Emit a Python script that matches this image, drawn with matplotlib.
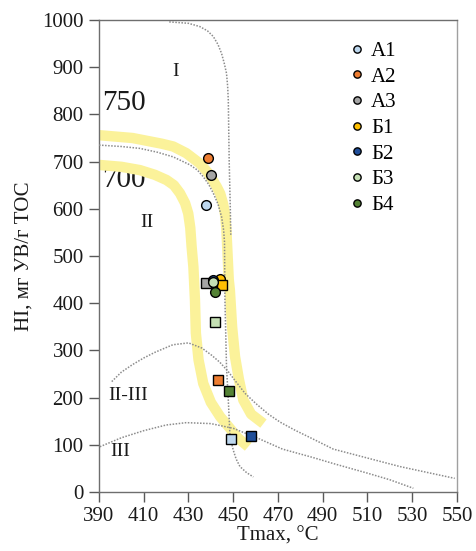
import matplotlib.pyplot as plt

plt.rcParams['font.family'] = ['Liberation Serif', 'DejaVu Serif']

# --- данные ---
groups = ['А1', 'А2', 'А3', 'Б1', 'Б2', 'Б3', 'Б4']
colors = ['#BDD7EE', '#ED7D31', '#A5A5A5', '#FFC000', '#1F4E99', '#C5E0B4', '#548235']

# круги (первая серия)
circ_tmax = [437.8, 438.8, 439.9, 444.0, 440.8, 441.1, 442.0]
circ_hi = [608, 708, 672, 451, 449, 444, 423]

# квадраты (вторая серия)
sq_tmax = [449.0, 443.0, 437.7, 445.1, 458.0, 442.0, 448.0]
sq_hi = [113, 237, 443, 438, 119, 361, 214]

# границы типов керогена (пунктир)
curve_I_x = [421.4, 430.0, 435.1, 438.5, 441.1, 443.2, 444.8, 446.0, 447.0,
             447.5, 447.8, 448.2, 448.7, 448.9]
curve_I_y = [996, 993, 986, 977, 965, 948, 929, 908, 887,
             860, 830, 700, 600, 545]

curve_II_x = [390.0, 400.0, 408.3, 416.0, 423.2, 430.7, 434.0, 436.6, 439.0,
              441.1, 443.2, 444.8, 445.7, 446.1, 446.3, 447.0, 447.8, 448.5,
              449.2, 450.0, 451.3, 453.0, 456.0, 459.0]
curve_II_y = [735, 732, 728, 720, 710, 693, 682, 668, 652,
              633, 610, 583, 555, 530, 407, 265, 195, 124,
              105, 89, 70, 54, 41, 32]

curve_II_III_x = [395.7, 400, 405, 410, 415, 423, 430, 436, 440.3, 444, 447.8,
                  451, 455.3, 460, 465.7, 471, 477.6, 485.8, 494.7, 510, 524.5, 549]
curve_II_III_y = [234, 254, 270, 284, 296, 312, 316, 305, 290, 275, 255,
                  235, 209, 188, 165, 148, 131, 112, 91, 72, 54, 29]

curve_III_x = [390.4, 400, 410, 420, 429, 440, 450, 461, 472, 485, 495, 510, 520, 530.5]
curve_III_y = [96, 115, 130, 142, 147, 145, 135, 114, 91, 74, 60, 40, 26, 8]

# жёлтые полосы (изолинии 750 и 700)
band_750_x = [390, 405, 418, 423.2, 429, 435.1, 439, 442.6, 444.2, 445.5, 446.3,
              446.9, 447.3, 448, 448.5, 449.5, 450.8, 452.5, 454.5, 458, 463.5]
band_750_y = [756, 750, 738, 732, 718, 696, 675, 647, 632, 610, 590,
              560, 520, 450, 428, 350, 287, 240, 195, 165, 145]

band_700_x = [390, 400, 408.3, 415, 420.2, 423.5, 426.2, 428.5, 429.9, 430.8,
              431.4, 432.2, 432.9, 433.3, 434.5, 436.6, 440, 444.1, 448, 452, 456.7]
band_700_y = [693, 689, 682, 672, 661, 650, 633, 612, 590, 560,
              520, 477, 407, 337, 280, 230, 190, 160, 138, 115, 96]

x_ticks = [390, 410, 430, 450, 470, 490, 510, 530, 550]
y_ticks = [0, 100, 200, 300, 400, 500, 600, 700, 800, 900, 1000]

fig = plt.figure(figsize=(4.77, 5.51), dpi=100)
ax = fig.add_axes([0.2075, 0.107, 0.7505, 0.8567])

# полосы
ax.plot(band_750_x, band_750_y, color='#FBF29A', lw=7.5,
        solid_capstyle='butt', solid_joinstyle='round', zorder=2)
ax.plot(band_700_x, band_700_y, color='#FBF29A', lw=7.5,
        solid_capstyle='butt', solid_joinstyle='round', zorder=2)

# пунктирные границы
for cx, cy in [(curve_I_x, curve_I_y), (curve_II_x, curve_II_y),
               (curve_II_III_x, curve_II_III_y), (curve_III_x, curve_III_y)]:
    ax.plot(cx, cy, color='#8C8C8C', lw=1.1, ls=(0, (1, 1)), zorder=3)

# точки
handles = []
for i, g in enumerate(groups):
    h, = ax.plot(circ_tmax[i], circ_hi[i], 'o', ms=7, mfc=colors[i],
                 mec='black', mew=1.0, zorder=5, label=g)
    ax.plot(sq_tmax[i], sq_hi[i], 's', ms=7.5, mfc=colors[i],
            mec='black', mew=1.0, zorder=5)
    handles.append(h)

# подписи областей
txt = '#1A1A1A'
ax.text(424.4, 890, 'I', fontsize=14, ha='center', va='center', color=txt)
ax.text(411.5, 572, 'II', fontsize=14, ha='center', va='center', color=txt)
ax.text(403.0, 205, 'II-III', fontsize=14, ha='center', va='center', color=txt)
ax.text(399.4, 85, 'III', fontsize=14, ha='center', va='center', color=txt)
ax.text(391.6, 824, '750', fontsize=21, ha='left', va='center', color=txt, zorder=1)
ax.text(391.6, 661, '700', fontsize=21, ha='left', va='center', color=txt, zorder=1)

ax.set_xlim(390, 550)
ax.set_ylim(0, 1000)
ax.set_xticks(x_ticks)
ax.set_yticks(y_ticks)
ax.tick_params(direction='out', length=7, width=1, color='#595959',
               labelsize=15, pad=4, labelcolor=txt)
for s in ax.spines.values():
    s.set_color('#6E6E6E')
    s.set_linewidth(1.0)
ax.spines['right'].set_color('#A0A0A0')

ax.set_xlabel('Tmax, °C', fontsize=15, labelpad=0, color=txt)
ax.set_ylabel('HI, мг УВ/г ТОС', fontsize=15, labelpad=6, color=txt)

ax.legend(handles=handles, loc='upper left', bbox_to_anchor=(0.679, 0.972),
          frameon=False, fontsize=15, markerscale=0.75, handlelength=0.6,
          handletextpad=0.4, labelspacing=0.29, borderaxespad=0)

fig.savefig('out.png', dpi=100)
